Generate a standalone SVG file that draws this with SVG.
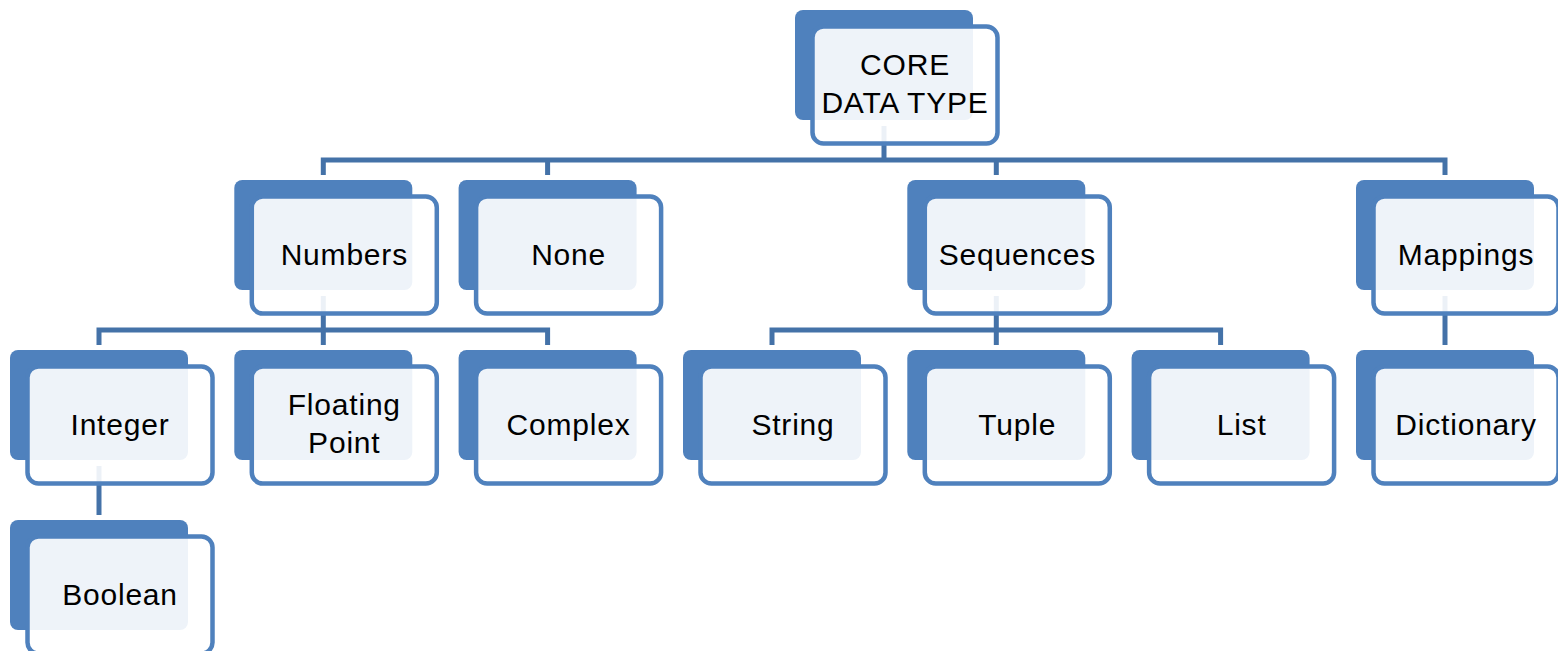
<svg xmlns="http://www.w3.org/2000/svg" width="1558" height="651" viewBox="0 0 1558 651">
  <style>
    .back { fill: #4F81BD; }
    .front { fill: #FFFFFF; fill-opacity: 0.9; stroke: #4F81BD; stroke-width: 4.5; }
    .label { font-family: "Liberation Sans", Arial, sans-serif; font-size: 30px; letter-spacing: 0.8px; fill: #000000; text-anchor: middle; }
    .conn { fill: none; stroke: #4472A8; stroke-width: 5; stroke-linecap: butt; }
  </style>
  <defs>
    <!-- one hierarchy box: filled shadow card behind an outlined card -->
    <g id="card">
      <rect class="back" x="0" y="0" width="178" height="110" rx="8"/>
      <rect class="front" x="17.5" y="16.5" width="185" height="117" rx="11"/>
    </g>
  </defs>
  <rect width="1558" height="651" fill="#FFFFFF"/>

  <g id="connectors">
    <!-- root to level 1 -->
    <path class="conn" d="M884 126 V160 M320.8 160 H1447.5 M323.3 160 V175 M547.6 160 V175 M996.3 160 V175 M1445 160 V175"/>
    <!-- Numbers to its children -->
    <path class="conn" d="M323.3 296 V330 M96.5 330 H550.1 M99 330 V345 M323.3 330 V345 M547.6 330 V345"/>
    <!-- Sequences to its children -->
    <path class="conn" d="M996.3 296 V330 M769.5 330 H1223.1 M772 330 V345 M996.3 330 V345 M1220.6 330 V345"/>
    <!-- Mappings to Dictionary -->
    <path class="conn" d="M1445 296 V345"/>
    <!-- Integer to Boolean -->
    <path class="conn" d="M99 466 V515"/>
  </g>

  <g id="node-core" transform="translate(795,10)">
    <use href="#card"/>
    <text class="label" x="110" y="65">CORE</text>
    <text class="label" x="110" y="103">DATA TYPE</text>
  </g>

  <g id="node-numbers" transform="translate(234.3,180)">
    <use href="#card"/>
    <text class="label" x="110" y="84.5">Numbers</text>
  </g>
  <g id="node-none" transform="translate(458.6,180)">
    <use href="#card"/>
    <text class="label" x="110" y="84.5">None</text>
  </g>
  <g id="node-sequences" transform="translate(907.3,180)">
    <use href="#card"/>
    <text class="label" x="110" y="84.5">Sequences</text>
  </g>
  <g id="node-mappings" transform="translate(1356,180)">
    <use href="#card"/>
    <text class="label" x="110" y="84.5">Mappings</text>
  </g>

  <g id="node-integer" transform="translate(10,350)">
    <use href="#card"/>
    <text class="label" x="110" y="84.5">Integer</text>
  </g>
  <g id="node-floating-point" transform="translate(234.3,350)">
    <use href="#card"/>
    <text class="label" x="110" y="65">Floating</text>
    <text class="label" x="110" y="103">Point</text>
  </g>
  <g id="node-complex" transform="translate(458.6,350)">
    <use href="#card"/>
    <text class="label" x="110" y="84.5">Complex</text>
  </g>
  <g id="node-string" transform="translate(683,350)">
    <use href="#card"/>
    <text class="label" x="110" y="84.5">String</text>
  </g>
  <g id="node-tuple" transform="translate(907.3,350)">
    <use href="#card"/>
    <text class="label" x="110" y="84.5">Tuple</text>
  </g>
  <g id="node-list" transform="translate(1131.6,350)">
    <use href="#card"/>
    <text class="label" x="110" y="84.5">List</text>
  </g>
  <g id="node-dictionary" transform="translate(1356,350)">
    <use href="#card"/>
    <text class="label" x="110" y="84.5">Dictionary</text>
  </g>

  <g id="node-boolean" transform="translate(10,520)">
    <use href="#card"/>
    <text class="label" x="110" y="84.5">Boolean</text>
  </g>
</svg>
